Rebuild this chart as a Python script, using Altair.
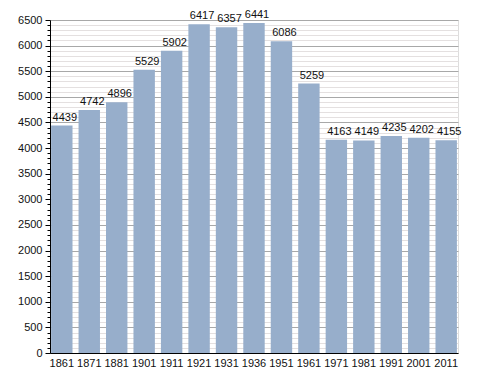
import altair as alt
import pandas as pd

years = ["1861", "1871", "1881", "1901", "1911", "1921", "1931", "1936",
         "1951", "1961", "1971", "1981", "1991", "2001", "2011"]
population = [4439, 4742, 4896, 5529, 5902, 6417, 6357, 6441,
              6086, 5259, 4163, 4149, 4235, 4202, 4155]
y_ticks = list(range(0, 6600, 100))

df = pd.DataFrame({"year": years, "pop": population})

FONT = "Liberation Sans"

x_enc = alt.X("year:N", sort=years, title=None,
              scale=alt.Scale(paddingInner=0.22, paddingOuter=0.04),
              axis=alt.Axis(labelAngle=0, labelFont=FONT, labelFontSize=11,
                            labelColor="#111", domainColor="#000",
                            tickSize=0, labelPadding=4, grid=False))
y_enc = alt.Y("pop:Q", title=None,
              scale=alt.Scale(domain=[0, 6500], nice=False, zero=True),
              axis=alt.Axis(values=y_ticks, labelOverlap=False,
                            labelExpr="datum.value % 500 === 0 ? datum.label : ''",
                            format="d",
                            labelFont=FONT, labelFontSize=11, labelColor="#111",
                            domainColor="#000", tickColor="#000",
                            tickSize={"condition": {"test": "datum.value % 500 === 0", "value": 5}, "value": 3},
                            labelPadding=3,
                            grid=True,
                            gridColor={"condition": {"test": "datum.value % 500 === 0", "value": "#a8a8a8"}, "value": "#e4e0e0"},
                            gridWidth=1))

bars = alt.Chart(df).mark_bar(color="#97AECB").encode(x=x_enc, y=y_enc)
labels = alt.Chart(df).mark_text(baseline="bottom", dy=-3, dx=3, font=FONT,
                                 fontSize=11, color="#111").encode(
    x=x_enc, y=y_enc, text=alt.Text("pop:Q", format="d"))

chart = alt.layer(bars, labels).properties(
    width=408, height=333,
    autosize=alt.AutoSizeParams(type="none"),
    padding={"left": 42, "top": 12, "right": 22, "bottom": 20},
).configure_view(stroke="transparent").configure(background="white")

chart.save("out.html", embed_options={"renderer": "svg", "actions": False})
